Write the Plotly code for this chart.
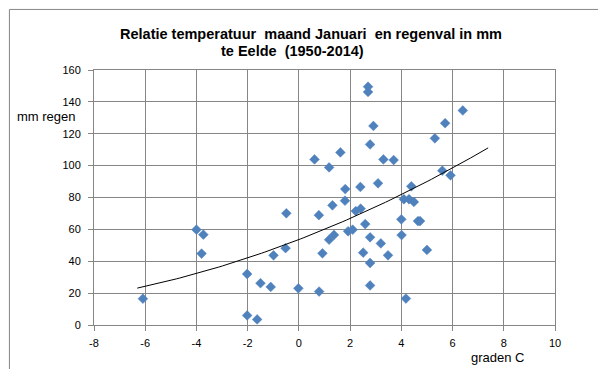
import plotly.graph_objects as go
import numpy as np

# Data: January temperature (graden C) vs rainfall (mm) at Eelde, 1950-2014
temp_c = [-6.09, -4.00, -3.73, -3.80, -2.02, -2.02, -1.63, -1.50, -1.10, -0.99,
          -0.49, -0.52, -0.02, 0.61, 0.78, 0.79, 0.92, 1.18, 1.37, 1.31,
          1.18, 1.62, 1.81, 1.80, 1.92, 2.10, 2.22, 2.41, 2.40, 2.59,
          2.51, 2.70, 2.70, 2.91, 2.78, 2.78, 2.78, 2.78, 3.09, 3.20,
          3.30, 3.48, 3.70, 4.00, 4.01, 4.18, 4.10, 4.30, 4.49, 4.39,
          4.65, 4.73, 5.00, 5.31, 5.60, 5.92, 5.71, 6.40]
rain_mm = [16.5, 59.8, 56.7, 44.8, 32.0, 6.0, 3.5, 26.2, 23.9, 43.7,
           70.1, 48.2, 23.0, 103.9, 68.9, 21.0, 45.0, 53.5, 56.5, 75.1,
           98.9, 108.3, 85.3, 78.0, 58.8, 59.8, 71.5, 73.0, 86.6, 63.3,
           45.4, 149.5, 146.2, 124.9, 113.3, 55.0, 38.9, 24.8, 88.9, 51.2,
           103.9, 43.7, 103.5, 66.3, 56.4, 16.6, 78.9, 78.9, 77.2, 87.0,
           65.2, 65.2, 47.1, 117.1, 96.8, 93.9, 126.6, 134.6]

# Trendline (2nd-order polynomial) and its x-extent
trend_coef = [0.216, 6.19, 53.6]
trend_x_range = [-6.31, 7.39]

x_tickvals = [-8, -6, -4, -2, 0, 2, 4, 6, 8, 10]
x_ticktext = ["-8", "-6", "-4", "-2", "0", "2", "4", "6", "8", "10"]
y_tickvals = [0, 20, 40, 60, 80, 100, 120, 140, 160]
y_ticktext = ["0", "20", "40", "60", "80", "100", "120", "140", "160"]

title_line1 = "Relatie temperatuur  maand Januari  en regenval in mm"
title_line2 = "te Eelde  (1950-2014)"
x_title = "graden C"
y_title = "mm regen"

W, H = 606, 369
L, R, T, B = 85.7, 58.7, 61.7, 51.7
pw, ph = W - L - R, H - T - B


def px(xp):
    return (xp - L) / pw


def py(yp):
    return 1 - (yp - T) / ph


tx = np.linspace(trend_x_range[0], trend_x_range[1], 100)
ty = np.polyval(trend_coef, tx)

grid = "#868686"
fnt = "Liberation Sans, Arial"
fig = go.Figure()
fig.add_trace(go.Scatter(
    x=temp_c, y=rain_mm, mode="markers",
    marker=dict(symbol="diamond", size=7.5, color="#4F81BD",
                line=dict(width=0.5, color="#4F81BD")),
    showlegend=False, hoverinfo="x+y"))
fig.add_trace(go.Scatter(
    x=tx, y=ty, mode="lines", line=dict(color="black", width=1),
    showlegend=False, hoverinfo="skip"))

axis_common = dict(showgrid=True, gridcolor=grid, gridwidth=1,
                   showline=True, linecolor=grid, linewidth=1,
                   ticks="outside", ticklen=5, tickcolor=grid,
                   zeroline=False, tickmode="array",
                   tickfont=dict(family=fnt, size=11, color="black"))

fig.update_layout(
    width=W, height=H,
    margin=dict(l=L, r=R, t=T, b=B, pad=0),
    paper_bgcolor="white", plot_bgcolor="white",
    xaxis=dict(range=[-8, 10], tickvals=x_tickvals, ticktext=x_ticktext,
               mirror=True, ticklabelstandoff=3, **axis_common),
    yaxis=dict(range=[0, 160], tickvals=y_tickvals, ticktext=y_ticktext,
               mirror=True, ticklabelstandoff=5, **axis_common),
    annotations=[
        dict(text=title_line1, x=px(302.6), y=py(26), xref="paper", yref="paper",
             showarrow=False, xanchor="center", yanchor="middle",
             font=dict(family=fnt, size=14.5, color="black", weight="bold")),
        dict(text=title_line2, x=px(284), y=py(43), xref="paper", yref="paper",
             showarrow=False, xanchor="center", yanchor="middle",
             font=dict(family=fnt, size=14.5, color="black", weight="bold")),
        dict(text=x_title, x=px(489.7), y=py(350), xref="paper", yref="paper",
             showarrow=False, xanchor="center", yanchor="middle",
             font=dict(family=fnt, size=13, color="black")),
        dict(text=y_title, x=px(37.8), y=py(108), xref="paper", yref="paper",
             showarrow=False, xanchor="center", yanchor="middle",
             font=dict(family=fnt, size=13, color="black")),
    ],
    shapes=[dict(type="rect", xref="paper", yref="paper",
                 x0=px(1), x1=px(604.5), y0=py(1), y1=py(367.5),
                 line=dict(color=grid, width=1), fillcolor="rgba(0,0,0,0)")],
)

fig.write_html("out.html")
